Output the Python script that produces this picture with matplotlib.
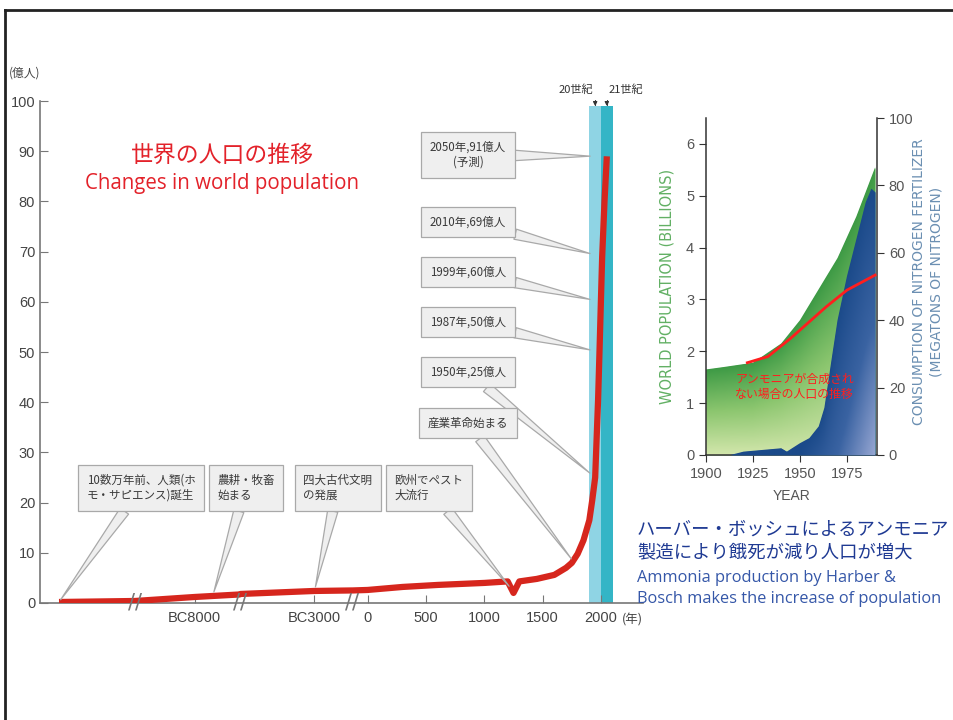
import numpy as np
import matplotlib
matplotlib.use('Agg')
import matplotlib.pyplot as plt
from matplotlib.colors import LinearSegmentedColormap
from matplotlib.lines import Line2D

plt.rcParams['font.family'] = ['Noto Sans CJK JP', 'DejaVu Sans']
CJK = ['Noto Sans CJK JP', 'DejaVu Sans']
NARROW = ['Liberation Sans Narrow', 'Liberation Sans', 'DejaVu Sans']

# ---- left chart: 世界の人口 (億人)
years = [-130000, -10000, -8000, -6500, -5000, -3000, -2000, -130, 0, 300, 600,
         1000, 1200, 1250, 1300, 1450, 1600, 1700, 1750, 1800, 1850, 1900,
         1925, 1950, 1975, 1987, 1999, 2010, 2030, 2050]
pop = [0.2, 0.4, 1.2, 1.7, 1.8, 2.4, 2.5, 2.5, 2.6, 3.2, 3.6,
       4.0, 4.3, 2.0, 4.3, 4.8, 5.6, 7.0, 8.0, 9.8, 12.5, 16.5,
       20.5, 25, 40.5, 50, 60, 69, 80, 89]

xtick_years = [-8000, -3000, 0, 500, 1000, 1500, 2000]
xtick_labels = ['BC8000', 'BC3000', '0', '500', '1000', '1500', '2000']
ytick_vals = [0, 10, 20, 30, 40, 50, 60, 70, 80, 90, 100]

# broken time axis (year -> position)
knot_years = [-160000, -10000, -6500, -5000, -2000, -130, 2360]
knot_pos = [40, 135, 239.5, 240.5, 351.5, 352.5, 643]
break_years = [-10000, -5750, -1065]

century_bands = [(1900, 2000, '#8fd4e4'), (2000, 2100, '#34b5c6')]
band_top = 99

# (text, year pointed at, box centre in px from top-left, shrink, alignment)
callouts = [
    ('2050年,91億人\n(予測)', 2050, (468, 155), 12, 'center'),
    ('2010年,69億人', 2010, (468, 222), 9, 'center'),
    ('1999年,60億人', 1999, (468, 272), 8, 'center'),
    ('1987年,50億人', 1987, (468, 322), 7, 'center'),
    ('1950年,25億人', 1950, (468, 372), 5, 'center'),
    ('産業革命始まる', 1760, (468, 423), 2, 'center'),
    ('10数万年前、人類(ホ\nモ・サピエンス)誕生', -130000, (141, 488), 2, 'left'),
    ('農耕・牧畜\n始まる', -7400, (246, 488), 3, 'left'),
    ('四大古代文明\nの発展', -3000, (338, 488), 3, 'left'),
    ('欧州でペスト\n大流行', 1235, (429, 488), 3, 'left'),
]

# ---- right chart
yr_pop = [1900, 1910, 1925, 1940, 1950, 1960, 1970, 1975, 1980, 1990]
world_pop = [1.65, 1.7, 1.78, 2.15, 2.6, 3.2, 3.8, 4.2, 4.6, 5.55]
yr_n = [1900, 1913, 1920, 1930, 1940, 1943, 1950, 1955, 1960, 1963, 1967,
        1970, 1975, 1980, 1985, 1988, 1990]
nitrogen = [0, 0, 1, 1.5, 2, 1, 3.5, 5, 8.5, 14, 29, 40, 53, 64, 75, 79, 78]
yr_no_nh3 = [1922, 1933, 1945, 1950, 1964, 1975, 1990]
pop_no_nh3 = [1.78, 1.9, 2.25, 2.41, 2.86, 3.18, 3.47]

W, H = 954, 720
fig = plt.figure(figsize=(W / 100, H / 100), dpi=100)
fig.patch.set_facecolor('white')


def px(x, y):
    # image px (top-left origin) -> figure pixels
    return (x, H - y)


# slide frame
fig.add_artist(Line2D([5 / W, 5 / W], [0, 1 - 10 / H], color='#222', lw=2))
fig.add_artist(Line2D([5 / W, 1], [1 - 10 / H, 1 - 10 / H], color='#222', lw=2))

# ================= main chart =================
ax = fig.add_axes([40 / W, 1 - 603 / H, 603 / W, 530 / H])


def fwd(x):
    return np.interp(x, knot_years, knot_pos)


def inv(u):
    return np.interp(u, knot_pos, knot_years)


ax.set_xscale('function', functions=(fwd, inv))
ax.set_xlim(knot_years[0], knot_years[-1])
ax.set_ylim(0, 105.6)

for x0, x1, c in century_bands:
    ax.fill_between([x0, x1], 0, band_top, color=c, lw=0, zorder=1)

ax.plot(years, pop, color='#d6261d', lw=4.5, solid_capstyle='butt', zorder=3)

for s in ['top', 'right']:
    ax.spines[s].set_visible(False)
for s in ['left', 'bottom']:
    ax.spines[s].set_color('#777')
    ax.spines[s].set_linewidth(1.2)
ax.spines['left'].set_bounds(0, 100)
ax.set_yticks(ytick_vals)
ax.set_xticks(xtick_years)
ax.set_xticklabels(xtick_labels)
ax.xaxis.set_minor_locator(matplotlib.ticker.NullLocator())
ax.tick_params(axis='both', direction='in', length=6, color='#777',
               labelcolor='#444', labelsize=10.5)
for lab in ax.get_xticklabels() + ax.get_yticklabels():
    lab.set_family(NARROW)
ax.tick_params(axis='x', pad=6)

for b in break_years:
    ax.text(b, 0, '//', ha='center', va='center', fontsize=15, color='#777',
            family='DejaVu Sans', zorder=4)

ax.text(0.982, -0.032, '(年)', transform=ax.transAxes, ha='center', va='center',
        fontsize=9, color='#444')
ax.text(-0.025, 1.0, '(億人)', transform=ax.transAxes, ha='center', va='center',
        fontsize=8.5, color='#444')

ax.annotate('20世紀', xy=(1950, band_top), xycoords='data',
            xytext=px(593, 90), textcoords='figure pixels', ha='right', va='center',
            fontsize=8, color='#333',
            arrowprops=dict(arrowstyle='-|>', color='#333', lw=0.8, mutation_scale=6,
                            connectionstyle='angle,angleA=0,angleB=90,rad=0',
                            shrinkA=1, shrinkB=0))
ax.annotate('21世紀', xy=(2050, band_top), xycoords='data',
            xytext=px(609, 90), textcoords='figure pixels', ha='left', va='center',
            fontsize=8, color='#333',
            arrowprops=dict(arrowstyle='-|>', color='#333', lw=0.8, mutation_scale=6,
                            connectionstyle='angle,angleA=0,angleB=90,rad=0',
                            shrinkA=1, shrinkB=0))

for text, yr, (bx, by), shr, al in callouts:
    tip = (yr, np.interp(yr, years, pop))
    ax.annotate(text, xy=tip, xycoords='data', xytext=px(bx, by),
                textcoords='figure pixels', ha='center', va='center',
                multialignment=al, fontsize=8.3, color='#3a3a3a', zorder=5,
                bbox=dict(boxstyle='square,pad=0.75', fc='#efefef', ec='#a9a9a9', lw=0.9),
                arrowprops=dict(arrowstyle='wedge,tail_width=0.9,shrink_factor=0.5',
                                fc='#efefef', ec='#a9a9a9', lw=0.9,
                                shrinkA=0, shrinkB=shr))

fig.text(222 / W, 1 - 155 / H, '世界の人口の推移', ha='center', va='center',
         fontsize=16.5, color='#e3222a', family=CJK)
fig.text(222 / W, 1 - 183 / H, 'Changes in world population', ha='center', va='center',
         fontsize=14.8, color='#e3222a', family=['Open Sans', 'DejaVu Sans'])

# ================= right chart =================
ax1 = fig.add_axes([706 / W, 1 - 455 / H, 171 / W, 337 / H])
ax2 = ax1.twinx()

green_cmap = LinearSegmentedColormap.from_list('g', ['#d2e6ab', '#8cc66f', '#3d9a45'])
blue_cmap = LinearSegmentedColormap.from_list('b', ['#1b4a8a', '#3a63a2', '#96a6d2'])

gx = np.linspace(1900, 1991, 300)
gy = np.linspace(0, 6.5, 300)
GX, GY = np.meshgrid(gx, gy)
gz = np.clip(GY / np.interp(GX, yr_pop, world_pop), 0, 1)
poly = ax1.fill_between(yr_pop, 0, world_pop, color='#5aaa50', lw=0)
im = ax1.imshow(gz, extent=[1900, 1991, 0, 6.5], origin='lower', aspect='auto',
                cmap=green_cmap, zorder=poly.get_zorder() + 0.1)
im.set_clip_path(poly.get_paths()[0], transform=ax1.transData)

by_ = np.linspace(0, 100, 300)
BX, BY = np.meshgrid(gx, by_)
top_n = np.maximum(np.interp(BX, yr_n, nitrogen), 0.5)
bz = np.clip((BX - 1950) / 40, 0, 1) * np.clip(1 - BY / top_n, 0, 1)
poly2 = ax2.fill_between(yr_n, 0, nitrogen, color='#2a5a98', lw=0)
im2 = ax2.imshow(bz, extent=[1900, 1991, 0, 100], origin='lower', aspect='auto',
                 cmap=blue_cmap, zorder=poly2.get_zorder() + 0.1)
im2.set_clip_path(poly2.get_paths()[0], transform=ax2.transData)

ax2.plot(yr_no_nh3, pop_no_nh3, color='#ff1e1e', lw=2, transform=ax1.transData, zorder=5)
ax2.text(0.17, 0.245, 'アンモニアが合成され\nない場合の人口の推移', transform=ax2.transAxes,
         ha='left', va='top', fontsize=8.6, color='#ff1e1e', linespacing=1.25,
         family=CJK, zorder=6)

ax1.set_xlim(1900, 1991)
ax1.set_ylim(0, 6.5)
ax2.set_xlim(1900, 1991)
ax2.set_ylim(0, 100)

for s in ['top', 'right']:
    ax1.spines[s].set_visible(False)
for s in ['top', 'left', 'bottom']:
    ax2.spines[s].set_visible(False)
for sp in [ax1.spines['left'], ax1.spines['bottom'], ax2.spines['right']]:
    sp.set_color('#333')
    sp.set_linewidth(1.1)
ax1.spines['bottom'].set_bounds(1900, 1991)

ax1.set_xticks([1900, 1925, 1950, 1975])
ax1.set_yticks([0, 1, 2, 3, 4, 5, 6])
ax2.set_yticks([0, 20, 40, 60, 80, 100])
for a in (ax1, ax2):
    a.tick_params(direction='out', length=5, color='#333', labelcolor='#555',
                  labelsize=10.5)
    for lab in a.get_xticklabels() + a.get_yticklabels():
        lab.set_family(NARROW)

ax1.set_xlabel('YEAR', fontsize=10, color='#555', family=NARROW, labelpad=6)
ax1.set_ylabel('WORLD POPULATION (BILLIONS)', fontsize=10.5, color='#62b064',
               family='DejaVu Sans', labelpad=8)
fig.text(919 / W, 1 - 282 / H, 'CONSUMPTION OF NITROGEN FERTILIZER', rotation=90,
         ha='center', va='center', fontsize=10, color='#6b8fb2', family='DejaVu Sans')
fig.text(937 / W, 1 - 282 / H, '(MEGATONS OF NITROGEN)', rotation=90,
         ha='center', va='center', fontsize=10, color='#6b8fb2', family='DejaVu Sans')

# blue caption
fig.text(637 / W, 1 - 530 / H, 'ハーバー・ボッシュによるアンモニア', ha='left', va='center',
         fontsize=13.2, color='#1f3a93', family=CJK)
fig.text(637 / W, 1 - 553 / H, '製造により餓死が減り人口が増大', ha='left', va='center',
         fontsize=13.2, color='#1f3a93', family=CJK)
fig.text(637 / W, 1 - 578 / H, 'Ammonia production by Harber &', ha='left', va='center',
         fontsize=11.8, color='#3557a8', family=['Open Sans', 'DejaVu Sans'])
fig.text(637 / W, 1 - 599 / H, 'Bosch makes the increase of population', ha='left',
         va='center', fontsize=11.8, color='#3557a8', family=['Open Sans', 'DejaVu Sans'])

fig.savefig('out.png', dpi=100)
